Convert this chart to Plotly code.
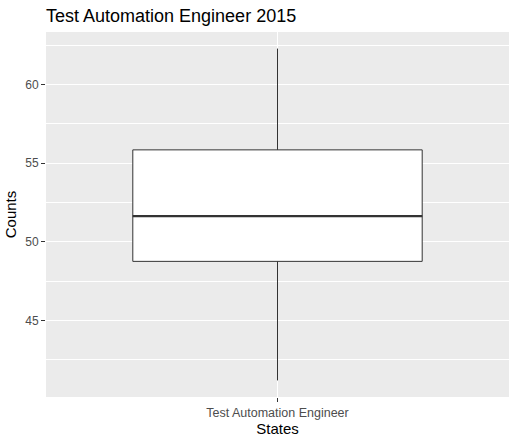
import plotly.graph_objects as go

categories = ["Test Automation Engineer"]
lower_fence = [41.19]
q1 = [48.76]
median = [51.64]
q3 = [55.85]
upper_fence = [62.29]
y_ticks = [45, 50, 55, 60]
minor_ticks = [42.5, 47.5, 52.5, 57.5, 62.5]

xpos = list(range(len(categories)))
box_w = 0.75

fig = go.Figure()
fig.add_trace(go.Box(
    x=xpos, q1=q1, median=median, q3=q3,
    lowerfence=lower_fence, upperfence=upper_fence,
    width=box_w, fillcolor="white",
    line=dict(color="#333333", width=1),
    whiskerwidth=0, boxpoints=False, hoverinfo="skip", showlegend=False,
))
for i, m in zip(xpos, median):
    fig.add_trace(go.Scatter(
        x=[i - box_w / 2, i + box_w / 2], y=[m, m], mode="lines",
        line=dict(color="#333333", width=2.2), hoverinfo="skip", showlegend=False,
    ))

lo = min(lower_fence); hi = max(upper_fence); pad = (hi - lo) * 0.05

fig.update_layout(
    width=516, height=442,
    margin=dict(l=46, r=7, t=32, b=45),
    paper_bgcolor="white", plot_bgcolor="#ebebeb",
    font=dict(family="Liberation Sans, Arial, sans-serif", color="black"),
    title=dict(text="Test Automation Engineer 2015", x=46 / 516, xanchor="left",
               y=1 - 16 / 442, yanchor="middle", font=dict(size=18, color="black")),
    xaxis=dict(
        range=[-0.6, len(categories) - 0.4], tickmode="array", tickvals=xpos, ticktext=categories,
        showgrid=True, gridcolor="white", gridwidth=1.1, zeroline=False,
        ticks="outside", ticklen=4, tickcolor="#333333", tickwidth=1.1,
        tickfont=dict(size=12.5, color="#4d4d4d"),
        title=dict(text="States", font=dict(size=15, color="black"), standoff=2),
        showline=False,
    ),
    yaxis=dict(
        range=[lo - pad, hi + pad], tickmode="array", tickvals=y_ticks,
        showgrid=True, gridcolor="white", gridwidth=1.1, zeroline=False,
        ticks="outside", ticklen=4, tickcolor="#333333", tickwidth=1.1,
        tickfont=dict(size=12, color="#4d4d4d"),
        title=dict(text="Counts", font=dict(size=15, color="black"), standoff=4),
        minor=dict(tickmode="array", tickvals=minor_ticks, showgrid=True,
                   gridcolor="white", gridwidth=0.55, ticks=""),
        showline=False,
    ),
)

fig.write_html("out.html")
